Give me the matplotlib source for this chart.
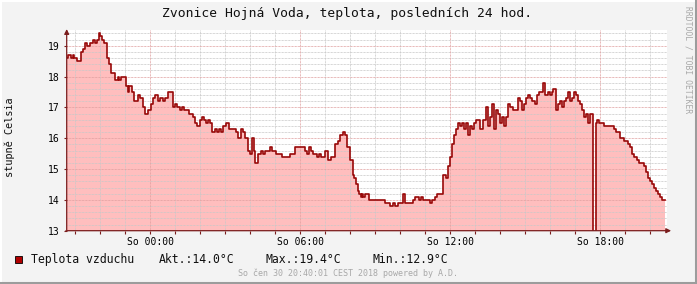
import matplotlib
matplotlib.use('Agg')
import matplotlib.pyplot as plt
from matplotlib.lines import Line2D
from matplotlib.patches import Rectangle
import numpy as np

# minutes since 20:40 (start of the 24 h window) and the temperature from then on
minutes = [0, 4, 10, 14, 18, 24, 34, 38, 43, 48, 56, 62, 67, 72, 77, 80, 85, 90, 96, 101,
           107, 117, 122, 126, 131, 142, 147, 150, 157, 162, 171, 176, 182, 189, 194, 202, 208, 213, 218, 224,
           230, 235, 243, 254, 261, 265, 272, 277, 282, 293, 304, 309, 313, 320, 325, 330, 334, 339, 344, 349,
           355, 360, 365, 370, 374, 382, 389, 406, 411, 418, 424, 429, 435, 440, 445, 450, 453, 459, 466, 471,
           476, 487, 493, 503, 516, 535, 548, 572, 577, 582, 586, 591, 601, 606, 610, 620, 626, 634, 644, 652,
           657, 663, 668, 673, 681, 686, 690, 694, 698, 701, 706, 709, 712, 717, 726, 763, 776, 782, 789, 795,
           806, 811, 832, 837, 845, 850, 856, 872, 877, 883, 889, 902, 910, 916, 921, 925, 930, 934, 938, 943,
           948, 953, 958, 964, 969, 973, 978, 983, 993, 998, 1007, 1012, 1017, 1021, 1026, 1031, 1036, 1041, 1045, 1050,
           1055, 1060, 1065, 1071, 1084, 1089, 1093, 1097, 1103, 1108, 1113, 1117, 1124, 1129, 1134, 1143, 1148, 1154, 1159, 1164,
           1167, 1174, 1178, 1183, 1189, 1194, 1199, 1204, 1209, 1213, 1218, 1223, 1228, 1233, 1237, 1242, 1247, 1252, 1257, 1263,
           1270, 1273, 1278, 1289, 1313, 1318, 1329, 1338, 1348, 1353, 1357, 1362, 1369, 1374, 1386, 1391, 1396, 1401, 1405, 1410,
           1415, 1420, 1425, 1429, 1436]
teplota = [18.6, 18.7, 18.6, 18.7, 18.6, 18.5, 18.8, 18.9, 19.1, 19.0, 19.1, 19.2, 19.1, 19.2, 19.4, 19.3, 19.2, 19.1, 18.6, 18.4,
           18.1, 17.9, 18.0, 17.9, 18.0, 17.7, 17.5, 17.7, 17.5, 17.2, 17.4, 17.3, 17.0, 16.8, 16.9, 17.1, 17.3, 17.4, 17.2, 17.3,
           17.2, 17.3, 17.5, 17.0, 17.1, 17.0, 16.9, 17.0, 16.9, 16.8, 16.7, 16.5, 16.4, 16.6, 16.7, 16.6, 16.5, 16.6, 16.5, 16.2,
           16.3, 16.2, 16.3, 16.2, 16.4, 16.5, 16.3, 16.2, 16.0, 16.3, 16.2, 16.0, 15.6, 15.5, 16.0, 15.6, 15.2, 15.5, 15.6, 15.5,
           15.6, 15.7, 15.6, 15.5, 15.4, 15.5, 15.7, 15.6, 15.5, 15.7, 15.6, 15.5, 15.4, 15.5, 15.4, 15.6, 15.3, 15.4, 15.8, 15.9,
           16.1, 16.2, 16.1, 15.7, 15.3, 14.8, 14.7, 14.5, 14.3, 14.2, 14.1, 14.2, 14.1, 14.2, 14.0, 13.9, 13.8, 13.9, 13.8, 13.9,
           14.2, 13.9, 14.0, 14.1, 14.0, 14.1, 14.0, 13.9, 14.0, 14.1, 14.2, 14.8, 14.7, 15.1, 15.4, 15.8, 16.1, 16.3, 16.5, 16.4,
           16.5, 16.3, 16.5, 16.1, 16.4, 16.3, 16.5, 16.6, 16.3, 16.6, 17.0, 16.4, 16.7, 17.1, 16.3, 16.9, 16.8, 16.5, 16.7, 16.4,
           16.7, 17.1, 17.0, 16.9, 17.3, 17.2, 16.9, 17.1, 17.3, 17.4, 17.3, 17.2, 17.1, 17.4, 17.5, 17.8, 17.4, 17.5, 17.4, 17.5,
           17.6, 16.9, 17.1, 17.2, 17.0, 17.2, 17.3, 17.5, 17.2, 17.3, 17.5, 17.4, 17.2, 17.1, 16.9, 16.7, 16.8, 16.5, 16.8, 12.9,
           16.5, 16.6, 16.5, 16.4, 16.3, 16.2, 16.0, 15.9, 15.8, 15.7, 15.5, 15.4, 15.3, 15.2, 15.1, 14.9, 14.7, 14.6, 14.5, 14.4,
           14.3, 14.2, 14.1, 14.0, 14.0]

start_clock = 20 * 60 + 40
major_labels = ['So 00:00', 'So 06:00', 'So 12:00', 'So 18:00']
legend_label = 'Teplota vzduchu'
akt, mx, mn = 14.0, 19.4, 12.9

W, H = 697, 284
mono = 'DejaVu Sans Mono'
line_col = '#980808'
fill_col = '#FFBEBE'
axis_col = '#7A1C1C'

fig = plt.figure(figsize=(W / 100, H / 100), dpi=100)
fig.patch.set_facecolor('#F3F3F3')

# 3d-ish frame around the canvas
fig.add_artist(Line2D([0, 1], [1 - 0.5 / H, 1 - 0.5 / H], transform=fig.transFigure, color='white', lw=1.5))
fig.add_artist(Line2D([0.5 / W, 0.5 / W], [0, 1], transform=fig.transFigure, color='white', lw=1.5))
fig.add_artist(Line2D([0, 1], [1.5 / H, 1.5 / H], transform=fig.transFigure, color='#9C9C9C', lw=2.2))
fig.add_artist(Line2D([1 - 1.5 / W, 1 - 1.5 / W], [0, 1], transform=fig.transFigure, color='#9C9C9C', lw=2.2))

ax = fig.add_axes([66.7 / W, (H - 230.7) / H, 600 / W, 200.4 / H])
ax.set_facecolor('white')
ax.set_xlim(0, 1440)
ax.set_ylim(13, 19.5)

x = np.array(minutes)
y = np.array(teplota)
ax.fill_between(x, 0, y, step='post', color=fill_col, lw=0, zorder=1)
ax.step(x, y, where='post', color=line_col, lw=1.2, zorder=4)

# grid
dots = (0, (0.72, 0.72))
hours = [m for m in range(0, 1441) if (start_clock + m) % 60 == 0]
majors = [m for m in hours if (start_clock + m) % 360 == 0]
for m in hours:
    if m in majors:
        continue
    ax.axvline(m, color='#C8C8C8', lw=0.72, ls=dots, zorder=2)
for v in np.arange(13.2, 19.5, 0.2):
    if abs(v - round(v)) < 0.01:
        continue
    ax.axhline(v, color='#C8C8C8', lw=0.72, ls=dots, zorder=2)
for m in majors:
    ax.axvline(m, color='#E0A0A0', lw=0.72, ls=dots, zorder=3)
for v in range(14, 20):
    ax.axhline(v, color='#E0A0A0', lw=0.72, ls=dots, zorder=3)

for s in ax.spines.values():
    s.set_visible(False)

ax.set_xticks(majors)
ax.set_xticklabels(major_labels)
ax.set_xticks(hours, minor=True)
ax.set_yticks(range(13, 20))
ax.tick_params(axis='both', which='both', direction='out', length=2, width=0.8, color=axis_col,
               labelsize=7, pad=2.5)
ax.tick_params(axis='y', pad=2.9)
for t in ax.get_xticklabels() + ax.get_yticklabels():
    t.set_fontfamily(mono)

# axes with arrows
ax.annotate('', xy=(1.012, 0), xytext=(-0.006, 0), xycoords='axes fraction',
            arrowprops=dict(arrowstyle='-|>', color=axis_col, lw=0.9, mutation_scale=7), zorder=6)
ax.annotate('', xy=(0, 1.02), xytext=(0, -0.01), xycoords='axes fraction',
            arrowprops=dict(arrowstyle='-|>', color=axis_col, lw=0.9, mutation_scale=7), zorder=6)

# texts
fig.text(347 / W, 1 - 14 / H, 'Zvonice Hojná Voda, teplota, posledních 24 hod.', family=mono,
         fontsize=9.4, ha='center', va='center', color='#101010')
fig.text(10 / W, 1 - 137 / H, 'stupně Celsia', family=mono, fontsize=7.4, rotation=90,
         ha='center', va='center', color='#101010')
fig.text(688 / W, 1 - 60 / H, 'RRDTOOL / TOBI OETIKER', family=mono, fontsize=5.8, rotation=-90,
         ha='center', va='center', color='#A8A8A8')

fig.add_artist(Rectangle((15.3 / W, 1 - 263.3 / H), 6.7 / W, 7.3 / H, transform=fig.transFigure,
                         facecolor='#B00000', edgecolor='black', lw=0.6))
ly = 1 - 259.3 / H
fig.text(30.7 / W, ly, legend_label, family=mono, fontsize=8.3, va='center', color='#101010')
fig.text(159 / W, ly, 'Akt.:%.1f°C' % akt, family=mono, fontsize=8.3, va='center', color='#101010')
fig.text(265.7 / W, ly, 'Max.:%.1f°C' % mx, family=mono, fontsize=8.3, va='center', color='#101010')
fig.text(372.7 / W, ly, 'Min.:%.1f°C' % mn, family=mono, fontsize=8.3, va='center', color='#101010')
fig.text(347.5 / W, 1 - 273.3 / H, 'So čen 30 20:40:01 CEST 2018 powered by A.D.', family=mono,
         fontsize=6.0, ha='center', va='center', color='#A8A8A8')

fig.savefig('out.png', dpi=100, facecolor=fig.get_facecolor())
